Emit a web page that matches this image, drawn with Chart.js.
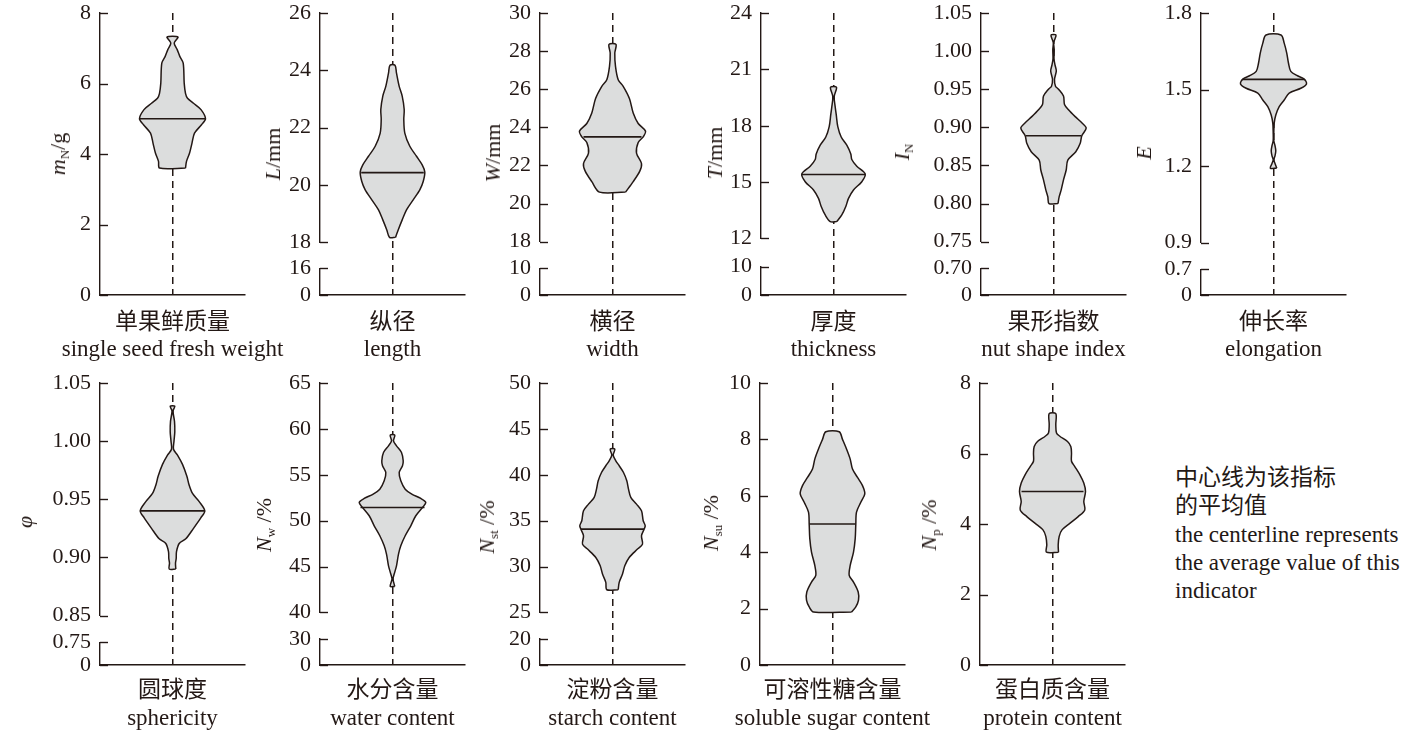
<!DOCTYPE html>
<html>
<head>
<meta charset="utf-8">
<script src="https://cdn.jsdelivr.net/npm/chart.js@4.4.1/dist/chart.umd.min.js"></script>
<style>
  body { margin: 0; background: #fff; width: 1417px; height: 730px; position: relative; overflow: hidden; }
  canvas { position: absolute; }
  .lab { position: absolute; transform: translate(-50%, -50%); white-space: nowrap; line-height: 1; color: #231815; }
  .zh { font-family: "Noto Sans CJK SC"; font-size: 23px; }
  .en { font-family: "Liberation Serif"; font-size: 23px; }
  .yt { position: absolute; transform: translate(-50%, -50%) rotate(-90deg); white-space: nowrap; line-height: 1;
        font-family: "Liberation Serif"; font-size: 22px; color: #231815; }
  .yt sub { font-size: 13px; vertical-align: -4px; font-style: normal; }
  .note { position: absolute; left: 1175px; top: 461px; color: #231815; line-height: 28px; }
  .note .zh, .note .en { white-space: nowrap; }
  .note .en { margin-top: 4px; }
</style>
</head>
<body>
<script>
const weightVals  = [3.60, 3.79, 4.02, 4.31, 4.59, 4.83, 5.00, 5.26, 5.44, 5.58, 5.72, 6.01, 6.58, 6.77, 6.96, 7.15, 7.32];
const weightWidth = [1.30, 1.40, 1.70, 1.95, 2.20, 2.90, 3.30, 2.85, 2.10, 1.50, 1.30, 1.17, 1.07, 0.73, 0.47, 0.17, 0.55];

const lengthVals  = [18.17, 18.43, 18.78, 19.13, 19.48, 19.83, 20.12, 20.45, 20.70, 21.00, 21.35, 21.81, 22.28, 22.63, 23.10, 23.44, 23.90, 24.18];
const lengthWidth = [0.30, 0.57, 0.97, 1.40, 2.07, 2.73, 3.07, 3.23, 2.97, 2.40, 1.73, 1.23, 1.13, 1.17, 0.97, 0.67, 0.40, 0.25];

const widthVals  = [20.60, 21.15, 21.70, 22.10, 22.65, 23.20, 23.50, 23.80, 24.20, 24.75, 25.50, 26.15, 26.50, 27.20, 27.90, 28.35];
const widthWidth = [1.30, 2.07, 2.73, 2.90, 2.40, 2.57, 3.07, 3.30, 2.57, 2.07, 1.70, 1.07, 0.57, 0.30, 0.23, 0.35];

const thickVals  = [12.90, 13.25, 13.70, 14.13, 14.58, 15.02, 15.43, 15.84, 16.20, 16.50, 16.97, 17.40, 17.95, 18.60, 19.00, 19.55, 20.05];
const thickWidth = [0.33, 0.83, 1.23, 1.50, 2.00, 2.83, 3.17, 2.33, 1.83, 1.73, 1.33, 0.77, 0.43, 0.27, 0.17, 0.07, 0.30];

const shapeVals  = [0.800, 0.809, 0.818, 0.831, 0.844, 0.857, 0.868, 0.879, 0.889, 0.899, 0.906, 0.914, 0.923, 0.930, 0.941, 0.950, 0.954, 0.963, 0.974, 0.982, 0.990, 1.002, 1.011, 1.021];
const shapeWidth = [0.45, 0.57, 0.77, 1.00, 1.27, 1.43, 2.23, 2.67, 2.83, 3.27, 2.83, 2.17, 1.50, 1.10, 1.00, 0.50, 0.20, 0.10, 0.28, 0.15, 0.05, 0.07, 0.02, 0.25];

const elongVals  = [1.192, 1.210, 1.225, 1.240, 1.260, 1.280, 1.300, 1.330, 1.368, 1.400, 1.433, 1.459, 1.486, 1.505, 1.522, 1.541, 1.554, 1.571, 1.603, 1.642, 1.682, 1.714];
const elongWidth = [0.33, 0.15, 0.03, 0.15, 0.23, 0.15, 0.03, 0.03, 0.07, 0.23, 0.57, 1.07, 1.57, 2.73, 3.30, 3.07, 2.40, 1.73, 1.50, 1.33, 1.07, 0.75];

const sphVals  = [0.890, 0.895, 0.899, 0.905, 0.912, 0.916, 0.925, 0.934, 0.940, 0.948, 0.955, 0.962, 0.970, 0.980, 0.988, 0.993, 1.000, 1.008, 1.017, 1.026, 1.030];
const sphWidth = [0.33, 0.30, 0.37, 0.40, 0.67, 1.33, 2.10, 2.83, 3.23, 2.67, 2.00, 1.67, 1.43, 1.00, 0.50, 0.10, 0.15, 0.23, 0.20, 0.05, 0.23];

const waterVals  = [42.83, 43.63, 44.18, 45.08, 46.35, 47.26, 48.35, 49.44, 50.53, 51.44, 51.98, 52.42, 52.89, 53.43, 54.34, 55.25, 55.98, 56.52, 57.43, 58.15, 58.70, 59.32];
const waterWidth = [0.23, 0.05, 0.17, 0.40, 0.60, 0.83, 1.27, 1.83, 2.33, 3.00, 3.33, 2.83, 1.93, 1.27, 0.83, 0.67, 1.00, 1.07, 0.90, 0.40, 0.10, 0.23];

const starchVals  = [27.47, 28.27, 29.18, 30.08, 30.99, 31.90, 32.44, 33.35, 34.08, 34.44, 34.99, 36.07, 36.80, 37.53, 38.43, 39.34, 40.25, 40.98, 41.52, 42.14, 42.79];
const starchWidth = [0.57, 0.67, 1.00, 1.23, 1.67, 2.50, 3.00, 2.90, 3.17, 3.27, 3.07, 2.90, 2.40, 1.83, 1.60, 1.43, 1.10, 0.67, 0.33, 0.07, 0.23];

const sugarVals  = [1.88, 2.06, 2.30, 2.59, 2.94, 3.18, 3.53, 4.00, 4.48, 4.98, 5.42, 5.77, 6.07, 6.36, 6.65, 6.95, 7.30, 7.66, 8.00, 8.27];
const sugarWidth = [1.90, 2.33, 2.60, 2.57, 2.10, 1.67, 1.77, 2.10, 2.27, 2.33, 2.40, 2.83, 3.23, 3.00, 2.50, 2.00, 1.77, 1.40, 1.00, 0.67];

const proteinVals  = [3.20, 3.41, 3.65, 3.84, 4.02, 4.21, 4.40, 4.64, 4.92, 5.16, 5.40, 5.63, 5.78, 6.01, 6.20, 6.34, 6.49, 6.58, 6.82, 7.13];
const proteinWidth = [0.60, 0.57, 0.67, 0.97, 1.73, 2.57, 3.23, 3.13, 3.30, 3.13, 2.73, 2.23, 1.90, 1.90, 1.83, 1.50, 0.73, 0.40, 0.33, 0.33];

// mean of each indicator and the violin half-width at the mean
const means    = [5.00, 20.43, 23.50, 15.40, 0.889, 1.540, 0.940, 51.44, 34.08, 5.00, 4.92];
const meanHalf = [3.30, 3.13, 2.90, 3.20, 2.75, 3.07, 3.20, 3.20, 3.15, 2.33, 3.10];

// y ticks: upper segment, and lower segment below the axis break
const weightTicks  = [0, 2, 4, 6, 8];
const lengthTicks  = [18, 20, 22, 24, 26];            const lengthLow = [0, 16];
const widthTicks   = [18, 20, 22, 24, 26, 28, 30];    const widthLow  = [0, 10];
const thickTicks   = [12, 15, 18, 21, 24];            const thickLow  = [0, 10];
const shapeTicks   = [0.75, 0.80, 0.85, 0.90, 0.95, 1.00, 1.05]; const shapeLow = [0, 0.70];
const elongTicks   = [0.9, 1.2, 1.5, 1.8];            const elongLow  = [0, 0.7];
const sphTicks     = [0.85, 0.90, 0.95, 1.00, 1.05];  const sphLow    = [0, 0.75];
const waterTicks   = [40, 45, 50, 55, 60, 65];        const waterLow  = [0, 30];
const starchTicks  = [25, 30, 35, 40, 45, 50];        const starchLow = [0, 20];
const sugarTicks   = [0, 2, 4, 6, 8, 10];
const proteinTicks = [0, 2, 4, 6, 8];

const namesZh = ["单果鲜质量", "纵径", "横径", "厚度", "果形指数", "伸长率",
                 "圆球度", "水分含量", "淀粉含量", "可溶性糖含量", "蛋白质含量"];
const namesEn = ["single seed fresh weight", "length", "width", "thickness", "nut shape index", "elongation",
                 "sphericity", "water content", "starch content", "soluble sugar content", "protein content"];
const yTitles = ["<i>m</i><sub>N</sub>/g", "<i>L</i>/mm", "<i>W</i>/mm", "<i>T</i>/mm", "<i>I</i><sub>N</sub>", "<i>E</i>",
                 "<i>φ</i>", "<i>N</i><sub>w</sub> /%", "<i>N</i><sub>st</sub> /%", "<i>N</i><sub>su</sub> /%", "<i>N</i><sub>p</sub> /%"];

const INK = "#231815";
const FILL = "#dcdddd";
const TICK_FONT = { family: "Liberation Serif", size: 22 };
const AXIS_W = 90, PLOT_W = 145, PLOT_H = 282, PAD_T = 16, PAD_B = 16, PAD_R = 10;
const ROW_TOP = [13, 383];
const ZH_Y = [319, 687], EN_Y = [348, 717];

// layout of the 11 panels (axis x position, row, axis break proportions, title spot)
const panels = [
  { vals: weightVals,  widths: weightWidth,  ticks: weightTicks,  low: null,      dec: 0, ax: 100,  row: 0, tx: 59,   ty: 154 },
  { vals: lengthVals,  widths: lengthWidth,  ticks: lengthTicks,  low: lengthLow, dec: 0, ax: 320,  row: 0, tx: 273,  ty: 154, stack: [229, 26, 26.7] },
  { vals: widthVals,   widths: widthWidth,   ticks: widthTicks,   low: widthLow,  dec: 0, ax: 540,  row: 0, tx: 493,  ty: 153, stack: [228.4, 26.6, 26.7] },
  { vals: thickVals,   widths: thickWidth,   ticks: thickTicks,   low: thickLow,  dec: 0, ax: 761,  row: 0, tx: 715,  ty: 153, stack: [225.2, 28.2, 28.3] },
  { vals: shapeVals,   widths: shapeWidth,   ticks: shapeTicks,   low: shapeLow,  dec: 2, ax: 981,  row: 0, tx: 903,  ty: 152, stack: [228.4, 26.6, 26.7] },
  { vals: elongVals,   widths: elongWidth,   ticks: elongTicks,   low: elongLow,  dec: 1, ax: 1201, row: 0, tx: 1144, ty: 153, stack: [229.4, 26.6, 25.7] },
  { vals: sphVals,     widths: sphWidth,     ticks: sphTicks,     low: sphLow,    dec: 2, ax: 100,  row: 1, tx: 25,   ty: 522, stack: [231.7, 26.7, 22.6] },
  { vals: waterVals,   widths: waterWidth,   ticks: waterTicks,   low: waterLow,  dec: 0, ax: 320,  row: 1, tx: 265,  ty: 525, stack: [229.4, 26.6, 26] },
  { vals: starchVals,  widths: starchWidth,  ticks: starchTicks,  low: starchLow, dec: 0, ax: 540,  row: 1, tx: 488,  ty: 527, stack: [229.4, 26.6, 26] },
  { vals: sugarVals,   widths: sugarWidth,   ticks: sugarTicks,   low: null,      dec: 0, ax: 760,  row: 1, tx: 712,  ty: 523 },
  { vals: proteinVals, widths: proteinWidth, ticks: proteinTicks, low: null,      dec: 0, ax: 980,  row: 1, tx: 930,  ty: 525 },
];

// tick marks pointing into the plot, at each y tick of the visible axis segments
const innerTicks = {
  id: "innerTicks",
  afterDraw(chart) {
    const ctx = chart.ctx;
    ctx.save();
    ctx.strokeStyle = INK;
    ctx.lineWidth = 1.4;
    for (const id of ["y", "yLow"]) {
      const s = chart.scales[id];
      if (!s) continue;
      for (const t of s.ticks) {
        const py = Math.round(s.getPixelForValue(t.value)) + 0.5;
        ctx.beginPath();
        ctx.moveTo(s.right, py);
        ctx.lineTo(s.right + 8, py);
        ctx.stroke();
      }
    }
    ctx.restore();
  },
};

function violinPoints(vals, widths) {
  const right = vals.map((v, i) => ({ x: widths[i], y: v }));
  const left = vals.map((v, i) => ({ x: -widths[i], y: v })).reverse();
  return right.concat(left, [right[0]]);
}

function fixBox(s) {
  s.width = AXIS_W;
  s.paddingTop = 0;
  s.paddingBottom = 0;
}

function yScale(ticks, dec, extra) {
  return Object.assign({
    type: "linear",
    position: "left",
    min: ticks[0],
    max: ticks[ticks.length - 1],
    afterBuildTicks: (s) => { s.ticks = ticks.map((v) => ({ value: v })); },
    afterFit: fixBox,
    grid: { display: false, drawTicks: false },
    border: { display: true, color: INK, width: 1.4 },
    ticks: {
      color: INK, padding: 9, font: TICK_FONT, autoSkip: false, maxRotation: 0,
      callback: (v) => (v === 0 ? "0" : Number(v).toFixed(dec)),
    },
  }, extra);
}

function addLabel(cls, html, x, y) {
  const d = document.createElement("div");
  d.className = cls;
  d.innerHTML = html;
  d.style.left = x + "px";
  d.style.top = y + "px";
  document.body.appendChild(d);
}

panels.forEach((p, i) => {
  const cv = document.createElement("canvas");
  cv.width = AXIS_W + PLOT_W + PAD_R;
  cv.height = PAD_T + PLOT_H + PAD_B;
  cv.style.left = (p.ax - AXIS_W) + "px";
  cv.style.top = (ROW_TOP[p.row] - PAD_T) + "px";
  document.body.appendChild(cv);

  const scales = {
    x: {
      type: "linear",
      min: -PLOT_W / 20,
      max: PLOT_W / 20,
      z: 1,
      afterBuildTicks: (s) => { s.ticks = [{ value: 0 }]; },
      afterFit: (s) => { s.height = 0; s.paddingLeft = 0; s.paddingRight = 0; },
      ticks: { display: false },
      grid: { drawTicks: false, color: INK, lineWidth: 1.5 },
      border: { display: true, color: INK, width: 1.4, dash: [7, 5] },
    },
    y: yScale(p.ticks, p.dec, p.low ? { stack: "v", stackWeight: p.stack[0], weight: 3 } : {}),
  };
  if (p.low) {
    scales.yGap = {
      type: "linear", position: "left", stack: "v", stackWeight: p.stack[1], weight: 2,
      afterFit: fixBox,
      grid: { display: false }, border: { display: false }, ticks: { display: false },
    };
    scales.yLow = yScale(p.low, p.dec, { stack: "v", stackWeight: p.stack[2], weight: 1 });
  }

  new Chart(cv, {
    type: "line",
    data: {
      datasets: [
        {
          data: [{ x: -meanHalf[i], y: means[i] }, { x: meanHalf[i], y: means[i] }],
          borderColor: INK, borderWidth: 1.6, pointRadius: 0, fill: false, yAxisID: "y",
        },
        {
          data: violinPoints(p.vals, p.widths),
          borderColor: INK, borderWidth: 1.5, backgroundColor: FILL,
          fill: "shape", tension: 0.3, pointRadius: 0, yAxisID: "y",
        },
      ],
    },
    options: {
      responsive: false,
      animation: false,
      events: [],
      layout: { padding: { top: PAD_T, bottom: PAD_B, left: 0, right: PAD_R } },
      plugins: { legend: { display: false }, tooltip: { enabled: false } },
      scales,
    },
    plugins: [innerTicks],
  });

  const cx = p.ax + PLOT_W / 2;
  addLabel("lab zh", namesZh[i], cx, ZH_Y[p.row]);
  addLabel("lab en", namesEn[i], cx, EN_Y[p.row]);
  addLabel("yt", yTitles[i], p.tx, p.ty);
});

const note = document.createElement("div");
note.className = "note";
note.innerHTML = '<div class="zh">中心线为该指标<br>的平均值</div>' +
  '<div class="en">the centerline represents<br>the average value of this<br>indicator</div>';
document.body.appendChild(note);
</script>
</body>
</html>
